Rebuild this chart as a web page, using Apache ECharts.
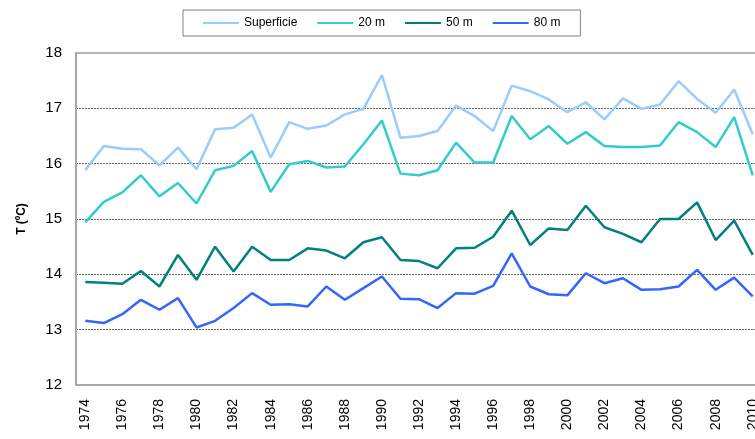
<!DOCTYPE html>
<html>
<head>
<meta charset="utf-8">
<script src="https://cdn.jsdelivr.net/npm/echarts@6/dist/echarts.min.js"></script>
<style>
  html, body { margin: 0; padding: 0; background: #fff; }
  #chart { width: 755px; height: 439px; }
</style>
</head>
<body>
<div id="chart"></div>
<script>
  var years = [];
  for (var y = 1974; y <= 2010; y++) { years.push(String(y)); }

  var superficie = [15.88, 16.32, 16.27, 16.26, 15.97, 16.29, 15.90, 16.62, 16.65, 16.89,
    16.11, 16.75, 16.63, 16.69, 16.89, 16.99, 17.60, 16.47, 16.50, 16.59,
    17.05, 16.86, 16.59, 17.41, 17.31, 17.16, 16.93, 17.11, 16.80, 17.18,
    16.99, 17.07, 17.49, 17.17, 16.92, 17.34, 16.53];
  var m20 = [14.94, 15.31, 15.48, 15.79, 15.41, 15.65, 15.28, 15.88, 15.96, 16.23,
    15.49, 15.99, 16.05, 15.93, 15.95, 16.35, 16.78, 15.82, 15.79, 15.88,
    16.38, 16.02, 16.02, 16.86, 16.44, 16.68, 16.36, 16.57, 16.32, 16.30,
    16.30, 16.33, 16.75, 16.57, 16.30, 16.84, 15.79];
  var m50 = [13.86, 13.85, 13.83, 14.06, 13.78, 14.35, 13.90, 14.50, 14.05, 14.50,
    14.26, 14.26, 14.47, 14.43, 14.29, 14.58, 14.67, 14.26, 14.24, 14.11,
    14.47, 14.48, 14.68, 15.15, 14.53, 14.83, 14.80, 15.24, 14.85, 14.73,
    14.58, 15.00, 15.00, 15.30, 14.62, 14.97, 14.35];
  var m80 = [13.16, 13.12, 13.28, 13.54, 13.36, 13.57, 13.04, 13.16, 13.39, 13.66,
    13.45, 13.46, 13.42, 13.78, 13.54, 13.75, 13.96, 13.56, 13.55, 13.39,
    13.66, 13.65, 13.79, 14.38, 13.78, 13.64, 13.62, 14.02, 13.84, 13.93,
    13.72, 13.73, 13.78, 14.08, 13.72, 13.94, 13.60];

  var seriesNames = ['Superficie', '20 m', '50 m', '80 m'];
  var seriesColors = ['#99ccff', '#33cccc', '#008080', '#3366ff'];
  var seriesData = [superficie, m20, m50, m80];

  var chart = echarts.init(document.getElementById('chart'));
  var font = 'Liberation Sans, Arial, sans-serif';

  chart.setOption({
    animation: false,
    textStyle: { fontFamily: font },
    legend: {
      top: 10,
      left: 183,
      data: seriesNames,
      icon: 'rect',
      itemWidth: 36,
      itemHeight: 2,
      itemGap: 20,
      padding: [7, 20, 7, 20],
      borderColor: '#808080',
      borderWidth: 1,
      textStyle: { fontSize: 12, color: '#000', fontFamily: font }
    },
    grid: {
      left: 76,
      top: 53,
      width: 686,
      bottom: 54,
      outerBoundsMode: 'none',
      show: true,
      borderColor: '#b4b4b4',
      borderWidth: 2
    },
    xAxis: {
      type: 'category',
      data: years,
      boundaryGap: true,
      axisLine: { lineStyle: { color: '#a8a8a8', width: 2 } },
      axisTick: { show: false },
      axisLabel: {
        rotate: 90,
        interval: 1,
        margin: 14,
        fontSize: 14,
        color: '#000'
      }
    },
    yAxis: {
      type: 'value',
      min: 12,
      max: 18,
      interval: 1,
      name: 'T (ºC)',
      nameLocation: 'middle',
      nameGap: 48,
      nameTextStyle: { fontSize: 12, fontWeight: 'bold', color: '#000' },
      axisLine: { show: true, lineStyle: { color: '#a8a8a8', width: 2 } },
      axisTick: { show: false },
      axisLabel: { fontSize: 15, color: '#000', margin: 14 },
      splitLine: {
        lineStyle: {
          color: ['#b4b4b4', '#666', '#666', '#666', '#666', '#666', '#b4b4b4'],
          type: [2, 1],
          width: 1
        }
      }
    },
    series: seriesNames.map(function (name, i) {
      return {
        name: name,
        type: 'line',
        data: seriesData[i],
        symbol: 'none',
        color: seriesColors[i],
        lineStyle: { width: 2.5, color: seriesColors[i] }
      };
    })
  });
</script>
</body>
</html>
